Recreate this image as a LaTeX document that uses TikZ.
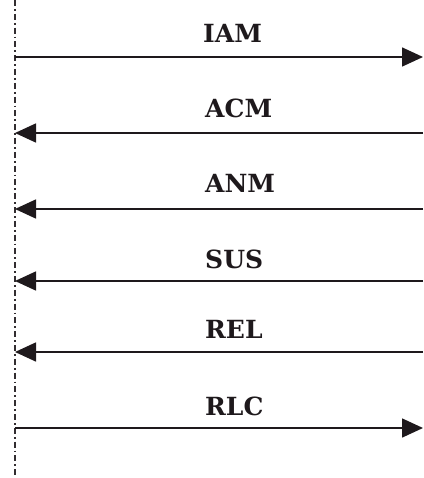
\documentclass[tikz,border=0pt]{standalone}
\usepackage{fontspec}
\setmainfont{DejaVu Serif}
\usetikzlibrary{arrows.meta}
\definecolor{lineblack}{RGB}{30,25,28}
\definecolor{lifegray}{RGB}{50,45,48}

\begin{document}
\begin{tikzpicture}[
  x=1pt, y=-1pt,
  msg/.style={-{Triangle[length=21pt, width=19pt]}, line width=1.6pt, draw=lineblack},
  life/.style={draw=lifegray, line width=1.8pt, dash pattern=on 6pt off 3pt on 1.8pt off 3pt},
  lbl/.style={anchor=base west, inner sep=0pt, font=\fontsize{25}{29}\selectfont\bfseries, text=lineblack}
]
\useasboundingbox (0,0) rectangle (423,478);

% lifeline on the left
\coordinate (top) at (15,0);
\coordinate (bot) at (15,478);
\draw[life] (top) -- (bot);

% end points of the messages
\coordinate (l1) at (15,57);  \coordinate (r1) at (423,57);
\coordinate (l2) at (15,133); \coordinate (r2) at (423,133);
\coordinate (l3) at (15,209); \coordinate (r3) at (423,209);
\coordinate (l4) at (15,281); \coordinate (r4) at (423,281);
\coordinate (l5) at (15,352); \coordinate (r5) at (423,352);
\coordinate (l6) at (15,428); \coordinate (r6) at (423,428);

\draw[msg] (l1) -- (r1);
\draw[msg] (r2) -- (l2);
\draw[msg] (r3) -- (l3);
\draw[msg] (r4) -- (l4);
\draw[msg] (r5) -- (l5);
\draw[msg] (l6) -- (r6);

\node[lbl] (iam) at (203,43)  {IAM};
\node[lbl] (acm) at (205,118) {ACM};
\node[lbl] (anm) at (205,193) {ANM};
\node[lbl] (sus) at (205,268) {SUS};
\node[lbl] (rel) at (205,338) {REL};
\node[lbl] (rlc) at (205,415) {RLC};
\end{tikzpicture}
\end{document}
